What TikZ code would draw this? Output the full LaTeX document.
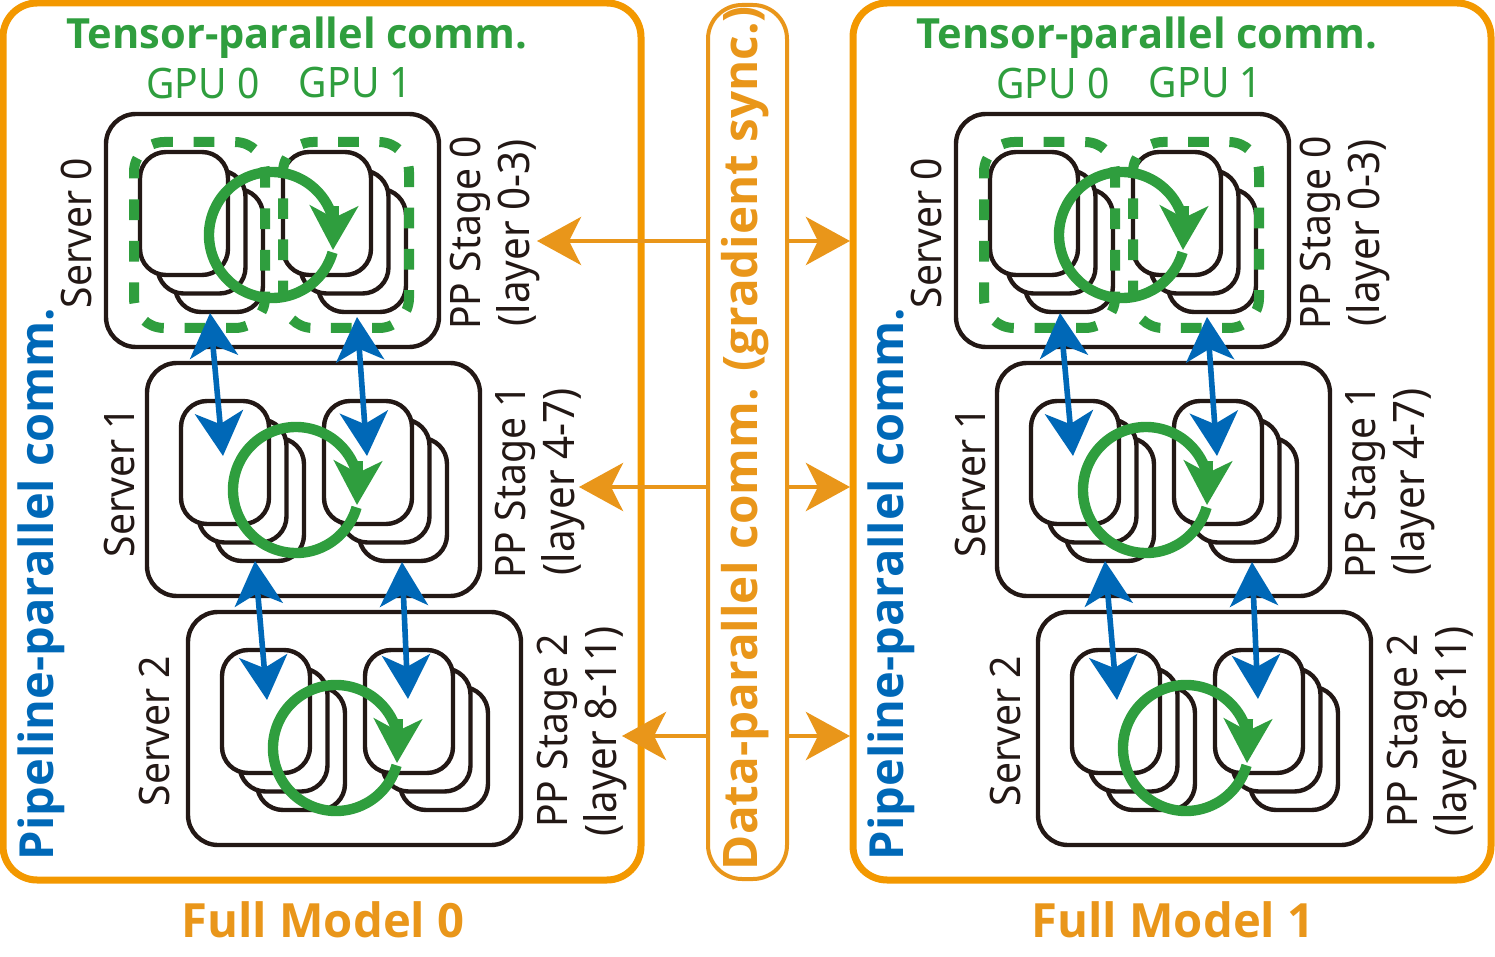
\documentclass[tikz,border=0pt]{standalone}
\usepackage{fontspec}
\setmainfont{Open Sans}
\newfontfamily\narrowfont[FakeStretch=0.93]{Noto Sans}
\usetikzlibrary{calc}
\usetikzlibrary{arrows.meta}
\definecolor{fmorange}{HTML}{F39800}
\definecolor{dporange}{HTML}{E9961A}
\definecolor{ppblue}{HTML}{0068B7}
\definecolor{tpgreen}{HTML}{2F9E3E}
\definecolor{ink}{HTML}{231815}
\tikzset{
 modelbox/.style={draw=fmorange, line width=3.5pt, rounded corners=17pt, minimum width=319pt, minimum height=438.5pt, inner sep=0},
 dpbox/.style={draw=dporange, line width=2pt, rounded corners=17pt, minimum width=39.5pt, minimum height=437pt, inner sep=0},
 serverbox/.style={draw=ink, fill=white, line width=2.2pt, rounded corners=15pt, minimum width=166.5pt, minimum height=116.5pt, inner sep=0},
 gpucard/.style={draw=ink, fill=white, line width=2.2pt, rounded corners=13pt, minimum width=44pt, minimum height=61.5pt, inner sep=0},
 tpbox/.style={draw=tpgreen, line width=5pt, rounded corners=15pt},
 tpring/.style={draw=tpgreen, line width=5.2pt},
 tptip/.style={draw=tpgreen, line width=5pt, -{Stealth[length=22pt, width=24pt, inset=6pt]}},
 pparrow/.style={draw=ppblue, line width=2.8pt, {Stealth[length=22pt, width=24pt, inset=6pt]}-{Stealth[length=22pt, width=24pt, inset=6pt]}},
 dparrow/.style={draw=dporange, line width=2.2pt, -{Stealth[length=22pt, width=24pt, inset=6pt]}},
 plainlabel/.style={text=ink, font=\narrowfont\fontsize{#1}{#1}\selectfont, inner sep=0},
 plainlabel/.default=21,
 boldtitle/.style={font=\fontsize{#1}{#1}\selectfont\bfseries, inner sep=0},
}
\newcommand{\gpustack}[1]{
 \foreach \k in {2,1,0} {
  \node[gpucard] at ($(#1)+(\k*17.5,\k*18.5)$) {};
 }
}
\begin{document}
\begin{tikzpicture}[x=0.5pt,y=-0.5pt]
\useasboundingbox (0,0) rectangle (1495,957);
% the two full models
\foreach \m/\dx in {0/0,1/850} {
 \begin{scope}[xshift=\dx*0.5pt]
 \node[modelbox] (model\m) at (322,441.5) {};
 \node[boldtitle=20.8, text=tpgreen] (tptitle\m) at (297,38) {Tensor-parallel comm.};
 \node[plainlabel, text=tpgreen] (gpua\m) at (203,83) {GPU 0};
 \node[plainlabel, text=tpgreen] (gpub\m) at (355.5,83) {GPU 1};
 \node[boldtitle=23.5, text=ppblue, rotate=90] (pptitle\m) at (41,584) {Pipeline-parallel comm.};
 \node[boldtitle=23.6, text=dporange] (fulltitle\m) at (323,920) {Full Model \m};
 \foreach \s/\layers/\ns/\ls [evaluate=\s as \sx using int(41*\s), evaluate=\s as \sy using int(249*\s)] in {0/0-3/0/0,1/4-7/44/45,2/8-11/79/87} {
  \node[serverbox] (srv\m\s) at (272.5+\sx,230.5+\sy) {};
  \node[plainlabel, rotate=90] (srvname\m\s) at (76+\ns,233+\sy) {Server \s};
  \node[plainlabel, rotate=90] (stage\m\s) at (470+\ls,233+\sy) {PP Stage \s};
  \node[plainlabel=21.7, rotate=90] (layer\m\s) at (518+\ls,233+\sy) {(layer \layers)};
  \coordinate (cardl) at (184+\sx,213.5+\sy);
  \coordinate (cardr) at (327+\sx,213.5+\sy);
  \gpustack{cardl}
  \gpustack{cardr}
 }
 % dashed boxes of server 0
 \draw[tpbox, dash pattern=on 10.4pt off 10.4pt, dash phase=6pt] (164,142) -- (265,142) -- (265,328) -- (134,328) -- (134,142) -- (164,142);
 \draw[tpbox, dash pattern=on 10.3pt off 10.3pt, dash phase=8pt] (313,142) -- (409,142) -- (409,328) -- (283,328) -- (283,142) -- (313,142);
 % rings
 \foreach \s/\cx/\cy in {0/272/235,1/296/490,2/336/748} {
  \coordinate (ring\m\s) at (\cx,\cy);
  \draw[tpring] (ring\m\s) ++(16:63) arc[start angle=16, end angle=345, radius=63];
  \draw[tptip] ($(ring\m\s)+(62,-29)$) -- ($(ring\m\s)+(61,15)$);
 }
 % pipeline arrows
 \foreach \i/\ax/\ay/\bx/\by in {a/210/313/223/456,b/357/317/367/456,c/255/561/267/700,d/402/562/408/699} {
  \coordinate (\i top\m) at (\ax,\ay);
  \coordinate (\i bot\m) at (\bx,\by);
  \draw[pparrow] (\i top\m) -- (\i bot\m);
 }
 \end{scope}
}
% data-parallel sync
\node[dpbox] (dp) at (747.5,442) {};
\node[boldtitle=23.8, text=dporange, rotate=90] (dptitle) at (745,438) {Data-parallel comm. (gradient sync.)};
\foreach \i/\tx/\ty in {0/537/241,1/579/487,2/622/736} {
 \coordinate (tipl\i) at (\tx,\ty);
 \coordinate (tipr\i) at (850,\ty);
 \draw[dparrow] (dp.west |- tipl\i) -- (tipl\i);
 \draw[dparrow] (dp.east |- tipr\i) -- (tipr\i);
}
\end{tikzpicture}
\end{document}
